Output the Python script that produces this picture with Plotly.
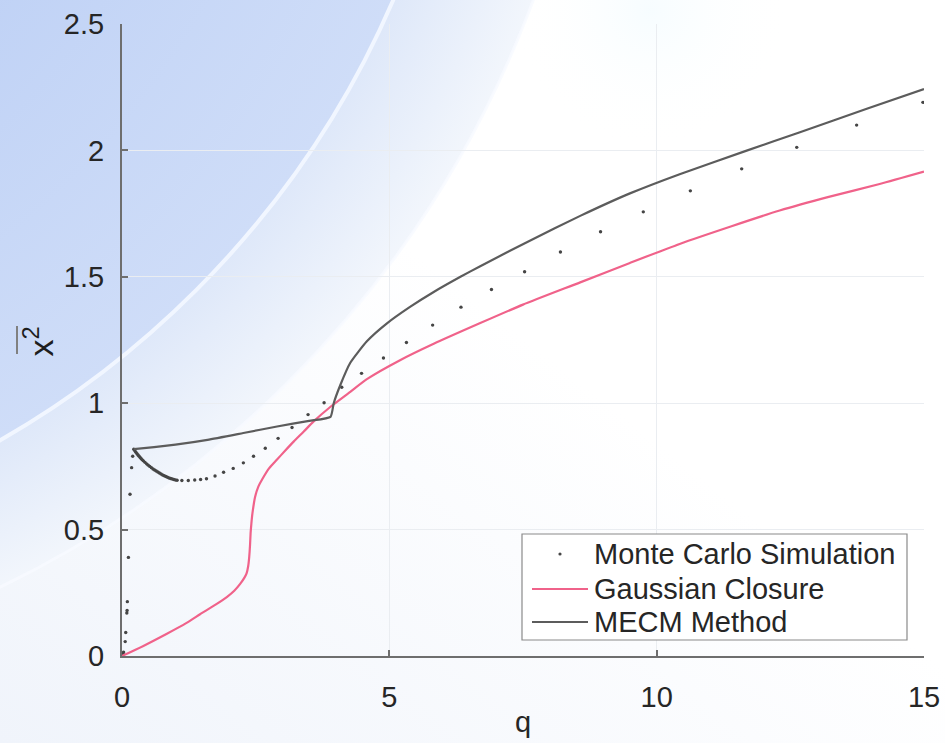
import base64
import plotly.graph_objects as go

# ---- data -------------------------------------------------------------
# Monte Carlo simulation samples (q, mean square response)
mc_q = [0.0, 0.01, 0.02, 0.03, 0.06, 0.07, 0.09, 0.095, 0.10, 0.12, 0.15, 0.18,
        0.20, 0.22, 0.24, 0.26, 0.28, 0.30, 0.32, 0.34, 0.36, 0.38, 0.40, 0.43,
        0.46, 0.49, 0.52, 0.55, 0.58, 0.61, 0.64, 0.67, 0.70, 0.73, 0.76, 0.79,
        0.82, 0.85, 0.88, 0.91, 0.94, 0.97, 1.00, 1.03, 1.12, 1.24, 1.36, 1.47,
        1.58, 1.74, 1.90, 2.08, 2.27, 2.46, 2.68, 2.92, 3.18, 3.48, 3.78, 4.11,
        4.48, 4.89, 5.32, 5.81, 6.34, 6.91, 7.53, 8.20, 8.95, 9.75, 10.63, 11.59,
        12.62, 13.74, 14.98]
mc_v = [0.0, 0.003, 0.008, 0.015, 0.057, 0.093, 0.17, 0.18, 0.215, 0.39, 0.64, 0.745,
        0.79, 0.818, 0.812, 0.806, 0.800, 0.795, 0.790, 0.785, 0.780, 0.776, 0.772, 0.766,
        0.760, 0.755, 0.750, 0.745, 0.740, 0.736, 0.732, 0.728, 0.724, 0.720, 0.716, 0.713,
        0.710, 0.707, 0.704, 0.702, 0.700, 0.698, 0.696, 0.695, 0.694, 0.694, 0.696, 0.698,
        0.701, 0.712, 0.727, 0.742, 0.764, 0.790, 0.822, 0.861, 0.904, 0.955, 1.002, 1.063,
        1.118, 1.179, 1.240, 1.309, 1.380, 1.450, 1.520, 1.598, 1.678, 1.757, 1.840, 1.927,
        2.012, 2.100, 2.190]

# Gaussian closure solution
gc_q = [0.0, 0.4, 0.84, 1.2, 1.46, 1.75, 1.96, 2.1, 2.21, 2.29, 2.33, 2.36, 2.38,
        2.395, 2.405, 2.42, 2.44, 2.49, 2.55, 2.62, 2.75, 2.9, 3.05, 3.21, 3.4, 3.58,
        3.9, 4.27, 4.58, 5.2, 5.83, 6.69, 7.5, 8.57, 9.5, 10.43, 11.4, 12.3, 13.2,
        14.17, 15.0]
gc_v = [0.0, 0.040, 0.088, 0.130, 0.165, 0.203, 0.233, 0.258, 0.285, 0.31, 0.327, 0.355,
        0.393, 0.44, 0.485, 0.525, 0.565, 0.63, 0.67, 0.698, 0.742, 0.777, 0.812, 0.848,
        0.888, 0.927, 0.986, 1.045, 1.095, 1.17, 1.235, 1.316, 1.39, 1.478, 1.555, 1.63,
        1.70, 1.762, 1.815, 1.867, 1.916]

# MECM method solution
me_q = [0.22, 0.6, 1.0, 1.6, 2.27, 2.9, 3.5, 3.9, 3.96, 4.08, 4.27, 4.58, 4.95, 5.38,
        5.83, 6.33, 6.7, 7.6, 8.57, 9.5, 10.43, 11.67, 12.68, 13.93, 15.0]
me_v = [0.818, 0.826, 0.836, 0.855, 0.882, 0.908, 0.93, 0.946, 1.0, 1.07, 1.16, 1.245,
        1.315, 1.380, 1.440, 1.500, 1.542, 1.640, 1.741, 1.830, 1.906, 1.998, 2.072, 2.165,
        2.243]

x_ticks = [0, 5, 10, 15]
x_tick_text = ["0", "5", "10", "15"]
y_ticks = [0, 0.5, 1, 1.5, 2, 2.5]
y_tick_text = ["0", "0.5", "1", "1.5", "2", "2.5"]
legend_names = ["Monte Carlo Simulation", "Gaussian Closure", "MECM Method"]

# ---- page geometry ----------------------------------------------------
W, H = 945, 743
ML, MR, MT, MB = 122, 21, 24, 87
PW, PH = W - ML - MR, H - MT - MB


def px(x, y):
    """pixel position on the page -> paper coordinates"""
    return (x - ML) / PW, (H - MB - y) / PH


FONT = "Liberation Sans, Arial, Helvetica, sans-serif"
GRAY = "#5c5c5c"
PINK = "#f0628a"
DOT = "#454545"
TEXT = "#262626"

# slide backdrop: blue corner with two pale arcs
cx, cy = -465, -371
svg = f"""<svg xmlns="http://www.w3.org/2000/svg" width="{W}" height="{H}" viewBox="0 0 {W} {H}">
<defs>
<linearGradient id="base" x1="0" y1="1" x2="0.55" y2="0.45">
<stop offset="0" stop-color="#f0f4fb"/><stop offset="1" stop-color="#ffffff"/>
</linearGradient>
<radialGradient id="band" cx="{cx}" cy="{cy}" r="1065" gradientUnits="userSpaceOnUse">
<stop offset="0.87" stop-color="#dde7f9"/><stop offset="1" stop-color="#f2f6fc"/>
</radialGradient>
<radialGradient id="core" cx="{cx}" cy="{cy}" r="935" gradientUnits="userSpaceOnUse">
<stop offset="0.55" stop-color="#bdd0f5"/><stop offset="1" stop-color="#cfddf8"/>
</radialGradient>
<radialGradient id="tint" cx="650" cy="10" r="140" gradientUnits="userSpaceOnUse">
<stop offset="0" stop-color="#f1fbff" stop-opacity="0.6"/><stop offset="1" stop-color="#ffffff" stop-opacity="0"/>
</radialGradient>
</defs>
<rect width="{W}" height="{H}" fill="url(#base)"/>
<rect width="{W}" height="{H}" fill="url(#tint)"/>
<circle cx="{cx}" cy="{cy}" r="1065" fill="url(#band)"/>
<circle cx="{cx}" cy="{cy}" r="935" fill="url(#core)"/>
<circle cx="{cx}" cy="{cy}" r="935" fill="none" stroke="#f1f6ff" stroke-width="4"/>
<circle cx="{cx}" cy="{cy}" r="1065" fill="none" stroke="#f7faff" stroke-width="3" opacity="0.8"/>
</svg>"""
bg_uri = "data:image/svg+xml;base64," + base64.b64encode(svg.encode()).decode()

fig = go.Figure()

fig.add_trace(go.Scatter(x=mc_q, y=mc_v, mode="markers", name=legend_names[0],
                         marker=dict(size=3.4, color=DOT), showlegend=False))
fig.add_trace(go.Scatter(x=gc_q, y=gc_v, mode="lines", name=legend_names[1],
                         line=dict(color=PINK, width=2.2, shape="spline", smoothing=0.6),
                         showlegend=False))
fig.add_trace(go.Scatter(x=me_q, y=me_v, mode="lines", name=legend_names[2],
                         line=dict(color=GRAY, width=2.2, shape="spline", smoothing=0.5),
                         showlegend=False))

axis_common = dict(
    showline=True, linecolor="#6e6e6e", linewidth=2,
    ticks="inside", ticklen=6, tickwidth=1.5, tickcolor="#6e6e6e",
    showgrid=True, gridcolor="#eaedf1", gridwidth=1.2,
    zeroline=False, tickfont=dict(family=FONT, size=29, color=TEXT),
    automargin=False,
)
fig.update_xaxes(range=[0, 15], tickvals=x_ticks, ticktext=x_tick_text,
                 ticklabelstandoff=14,
                 title=dict(text="q", font=dict(family=FONT, size=29, color=TEXT),
                            standoff=0),
                 **axis_common)
fig.update_yaxes(range=[0, 2.5], tickvals=y_ticks, ticktext=y_tick_text,
                 ticklabelstandoff=10, **axis_common)

# y-axis label: x-bar squared, written sideways
lx, ly = px(14, 342)
annotations = [dict(xref="paper", yref="paper", x=lx, y=ly, text="x<sup>2</sup>",
                    showarrow=False, textangle=-90,
                    font=dict(family=FONT, size=34, color="#1e1e1e"))]
bx, by0 = px(17, 354)
_, by1 = px(17, 326)
shapes = [dict(type="line", xref="paper", yref="paper", x0=bx, x1=bx, y0=by0, y1=by1,
               line=dict(color="#808080", width=2))]

# legend box
x0, y0 = px(522, 640)
x1, y1 = px(907, 534)
shapes.append(dict(type="rect", xref="paper", yref="paper", x0=x0, y0=y0, x1=x1, y1=y1,
                   fillcolor="white", line=dict(color="#8a8a8a", width=1.2), layer="above"))
rows_y = [554, 589, 622]
dx, dy = px(560, rows_y[0])
shapes.append(dict(type="circle", xref="paper", yref="paper", xsizemode="pixel",
                   ysizemode="pixel", xanchor=dx, yanchor=dy, x0=-1.6, x1=1.6, y0=-1.6,
                   y1=1.6, fillcolor=DOT, line=dict(width=0), layer="above"))
for row, color in zip(rows_y[1:], [PINK, GRAY]):
    sx0, sy = px(532, row)
    sx1, _ = px(588, row)
    shapes.append(dict(type="line", xref="paper", yref="paper", x0=sx0, x1=sx1, y0=sy,
                       y1=sy, line=dict(color=color, width=2), layer="above"))
tx, _ = px(592, 0)
for row, name in zip(rows_y, legend_names):
    _, ty = px(0, row)
    annotations.append(dict(xref="paper", yref="paper", x=tx, y=ty, text=name,
                            showarrow=False, xanchor="left", yanchor="middle",
                            font=dict(family=FONT, size=29, color=TEXT)))

fig.update_layout(
    width=W, height=H,
    margin=dict(l=ML, r=MR, t=MT, b=MB),
    paper_bgcolor="white", plot_bgcolor="rgba(0,0,0,0)",
    images=[dict(source=bg_uri, xref="paper", yref="paper",
                 x=-ML / PW, y=1 + MT / PH, sizex=W / PW, sizey=H / PH,
                 xanchor="left", yanchor="top", sizing="stretch", layer="below")],
    shapes=shapes, annotations=annotations, showlegend=False,
)

fig.write_html("out.html")
